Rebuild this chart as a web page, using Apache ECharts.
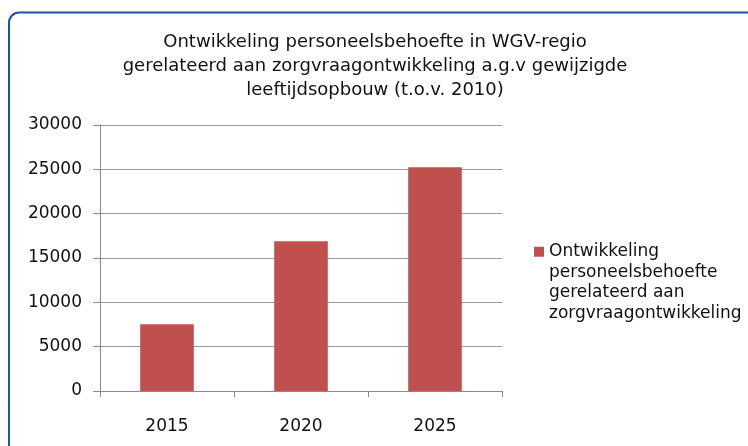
<!DOCTYPE html>
<html>
<head>
<meta charset="utf-8">
<title>Ontwikkeling personeelsbehoefte</title>
<script src="https://cdn.jsdelivr.net/npm/echarts@6/dist/echarts.min.js"></script>
<style>
    html, body { margin: 0; padding: 0; background: #fff; }
    #chart { width: 748px; height: 446px; }
</style>
</head>
<body>
<div id="chart"></div>
<script>
    // data
    var categories = ['2015', '2020', '2025'];
    var seriesName = 'Ontwikkeling personeelsbehoefte gerelateerd aan zorgvraagontwikkeling';
    var legendLines = ['Ontwikkeling', 'personeelsbehoefte', 'gerelateerd aan', 'zorgvraagontwikkeling'];
    var values = [7520, 16880, 25230];
    var titleLines = [
        'Ontwikkeling personeelsbehoefte in WGV-regio',
        'gerelateerd aan zorgvraagontwikkeling a.g.v gewijzigde',
        'leeftijdsopbouw (t.o.v. 2010)'
    ];

    var font = 'DejaVu Sans';
    var myChart = echarts.init(document.getElementById('chart'));
    // blank lines in front so the legend square sits next to the first line
    var legendText = '\n\n\n' + legendLines.join('\n');
    var options = {
        animation: false,
        textStyle: { fontFamily: font },
        graphic: [{
            type: 'rect',
            shape: { x: 9, y: 12.5, width: 780, height: 480, r: 10 },
            style: { fill: 'none', stroke: '#1a56a0', lineWidth: 2 },
            silent: true
        }],
        title: {
            text: titleLines.join('\n'),
            left: 370,
            top: 25,
            textAlign: 'center',
            textStyle: {
                fontFamily: font,
                fontSize: 18,
                fontWeight: 'normal',
                color: '#111',
                lineHeight: 24
            }
        },
        legend: {
            left: 534,
            top: 180,
            padding: 0,
            itemWidth: 10,
            itemHeight: 10,
            icon: 'rect',
            formatter: function () { return legendText; },
            textStyle: {
                fontFamily: font,
                fontSize: 17,
                color: '#111',
                lineHeight: 20.5
            },
            data: [seriesName]
        },
        grid: {
            left: 100,
            right: 246,
            top: 125,
            bottom: 55
        },
        xAxis: {
            type: 'category',
            data: categories,
            axisLine: { lineStyle: { color: '#8a8a8a', width: 1 } },
            axisTick: { show: true, length: 6, lineStyle: { color: '#8a8a8a' } },
            axisLabel: { fontFamily: font, fontSize: 17, color: '#111', margin: 27 }
        },
        yAxis: {
            type: 'value',
            min: 0,
            max: 30000,
            interval: 5000,
            axisLine: { show: true, lineStyle: { color: '#8a8a8a', width: 1 } },
            axisTick: { show: true, length: 7, lineStyle: { color: '#8a8a8a' } },
            axisLabel: {
                fontFamily: font, fontSize: 17, color: '#111', margin: 18,
                formatter: function (v) { return String(v); }
            },
            splitLine: { lineStyle: { color: '#9a9a9a', width: 1 } }
        },
        series: [{
            name: seriesName,
            type: 'bar',
            data: values,
            barWidth: '40%',
            itemStyle: { color: '#c0504d' }
        }]
    };
    myChart.setOption(options);
</script>
</body>
</html>
